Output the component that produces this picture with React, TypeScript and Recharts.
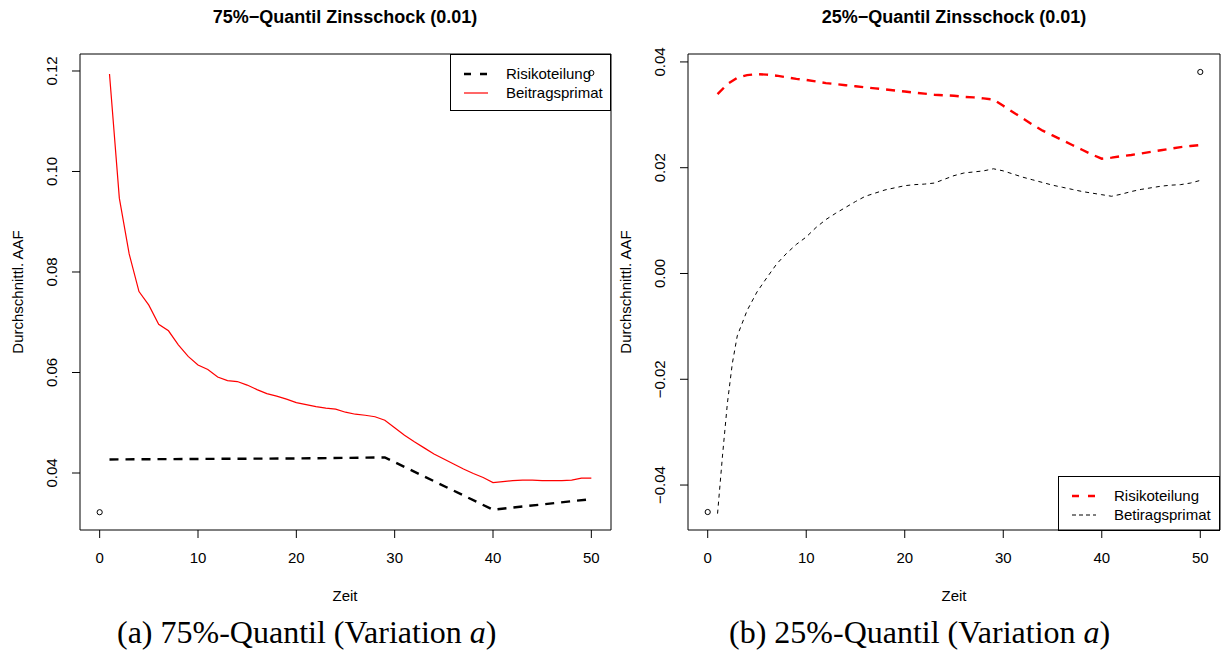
import { ComposedChart, Line, Scatter, XAxis, YAxis, ReferenceArea } from 'recharts';

const FONT = '"Liberation Sans", Arial, Helvetica, sans-serif';
const SERIF = '"Liberation Serif", "Times New Roman", serif';

// Zeit 1..50
const zeit = [
  1, 2, 3, 4, 5, 6, 7, 8, 9, 10, 11, 12, 13, 14, 15, 16, 17, 18, 19, 20, 21, 22, 23, 24, 25,
  26, 27, 28, 29, 30, 31, 32, 33, 34, 35, 36, 37, 38, 39, 40, 41, 42, 43, 44, 45, 46, 47, 48, 49, 50,
];
const xTicks = [0, 10, 20, 30, 40, 50];

// (a) 75%-Quantil
const beitragA = [
  0.1194, 0.0947, 0.0836, 0.0761, 0.0734, 0.0696, 0.0683, 0.0655, 0.0632, 0.0615,
  0.0606, 0.0591, 0.0584, 0.0582, 0.0575, 0.0566, 0.0558, 0.0553, 0.0547, 0.054,
  0.0536, 0.0532, 0.0529, 0.0527, 0.0521, 0.0517, 0.0515, 0.0512, 0.0505, 0.049,
  0.0475, 0.0462, 0.045, 0.0438, 0.0428, 0.0418, 0.0408, 0.0399, 0.0391, 0.0381,
  0.0383, 0.0385, 0.0386, 0.0386, 0.0385, 0.0385, 0.0385, 0.0386, 0.039, 0.039,
];
const risikoAZeit = [1, 10, 20, 29, 40, 50];
const risikoA = [0.0427, 0.0428, 0.0429, 0.0431, 0.0327, 0.0348];
const markerZeit = [0, 50];
const markerA = [0.0322, 0.1196];
const yTicksA = [0.04, 0.06, 0.08, 0.1, 0.12];
const yDomainA = [0.02866, 0.12338];

// (b) 25%-Quantil
const risikoB = [
  0.0339, 0.0358, 0.037, 0.0375, 0.0377, 0.0376, 0.0374, 0.0371, 0.0368, 0.0366,
  0.0363, 0.036, 0.0358, 0.0356, 0.0354, 0.0352, 0.035, 0.0348, 0.0346, 0.0344,
  0.0342, 0.034, 0.0338, 0.0337, 0.0336, 0.0334, 0.0333, 0.0331, 0.0329, 0.0317,
  0.0305, 0.0293, 0.0281, 0.027, 0.0261, 0.0252, 0.0243, 0.0234, 0.0225, 0.0217,
  0.0219, 0.0222, 0.0224, 0.0227, 0.023, 0.0233, 0.0236, 0.0239, 0.0241, 0.0243,
];
const beitragBZeit = [
  1, 1.5, 2, 2.5, 3, 4, 5, 6, 7, 8, 9, 10, 11, 12, 13, 14, 15, 16, 17, 18, 19, 20, 21, 22, 23, 24, 25,
  26, 27, 28, 29, 30, 31, 32, 33, 34, 35, 36, 37, 38, 39, 40, 41, 42, 43, 44, 45, 46, 47, 48, 49, 50,
];
const beitragB = [
  -0.0454, -0.0345, -0.0245, -0.017, -0.0118, -0.007, -0.0035, -0.0008, 0.0018, 0.0038,
  0.0055, 0.0069, 0.0087, 0.0102, 0.0114, 0.0125, 0.0136, 0.0146, 0.0152, 0.0158,
  0.0162, 0.0166, 0.0168, 0.0169, 0.0171, 0.0178, 0.0185, 0.019, 0.0192, 0.0194,
  0.0198, 0.0194, 0.0188, 0.0182, 0.0177, 0.0172, 0.0167, 0.0163, 0.0159, 0.0155,
  0.0152, 0.0149, 0.0146, 0.015, 0.0155, 0.0159, 0.0162, 0.0165, 0.0167, 0.0168,
  0.0171, 0.0176,
];
const markerB = [-0.0451, 0.0381];
const yTicksB = [-0.04, -0.02, 0, 0.02, 0.04];
const yDomainB = [-0.0485, 0.0415];

const pairs = (xs: number[], ys: number[]) => xs.map((x, i) => ({ x, y: ys[i] }));

function fmt(v: number) {
  const s = Math.abs(v).toFixed(2);
  return v < 0 ? '\u2212' + s : s;
}

function YTick({ x, y, payload }: any) {
  const bx = x - 15;
  return (
    <text
      x={bx}
      y={y}
      transform={`rotate(-90 ${bx} ${y})`}
      textAnchor="middle"
      fontSize={15}
      fontFamily={FONT}
      fill="#000"
    >
      {fmt(payload.value)}
    </text>
  );
}

function Ring(props: any) {
  const { cx, cy } = props;
  return <circle cx={cx} cy={cy} r={2.6} fill="none" stroke="#000" strokeWidth={1} />;
}

// yaxis width 60 + xaxis height 30 are added to the margins
function Panel({
  width,
  plotLeft,
  marginRight,
  domain,
  ticks,
  children,
}: {
  width: number;
  plotLeft: number;
  marginRight: number;
  domain: number[];
  ticks: number[];
  children: any;
}) {
  return (
    <ComposedChart
      width={width}
      height={610}
      margin={{ top: 54, right: marginRight, bottom: 50, left: plotLeft - 60 }}
    >
      <XAxis
        dataKey="x"
        type="number"
        domain={[-2, 52]}
        ticks={xTicks}
        allowDataOverflow
        height={30}
        axisLine={false}
        tickSize={8}
        tickMargin={14}
        tickLine={{ stroke: '#000' }}
        tick={{ fill: '#000', fontSize: 15, fontFamily: FONT }}
      />
      <YAxis
        type="number"
        domain={domain}
        ticks={ticks}
        allowDataOverflow
        width={60}
        axisLine={false}
        tickSize={8}
        tickMargin={0}
        tickLine={{ stroke: '#000' }}
        tick={<YTick />}
      />
      <ReferenceArea
        x1={-2}
        x2={52}
        y1={domain[0]}
        y2={domain[1]}
        fill="none"
        stroke="#000"
        strokeWidth={1}
        ifOverflow="visible"
      />
      {children}
    </ComposedChart>
  );
}

function LegendSym({ color, width, dash }: { color: string; width: number; dash?: string }) {
  return (
    <svg width={24} height={6} style={{ position: 'absolute', left: 0, top: -3 }}>
      <line x1={0} y1={3} x2={24} y2={3} stroke={color} strokeWidth={width} strokeDasharray={dash} />
    </svg>
  );
}

function LegendBox({
  left,
  top,
  width,
  height,
  rows,
}: {
  left: number;
  top: number;
  width: number;
  height: number;
  rows: { label: string; color: string; width: number; dash?: string }[];
}) {
  return (
    <div
      style={{
        position: 'absolute',
        left,
        top,
        width,
        height,
        border: '1px solid #000',
        boxSizing: 'border-box',
        fontFamily: FONT,
        fontSize: 15,
        color: '#000',
      }}
    >
      {rows.map((r, i) => (
        <div key={r.label} style={{ position: 'absolute', left: 13, top: 19 + i * 18.6 }}>
          <LegendSym color={r.color} width={r.width} dash={r.dash} />
          <span style={{ position: 'absolute', left: 42, top: -9, whiteSpace: 'nowrap', lineHeight: '18px' }}>
            {r.label}
          </span>
        </div>
      ))}
    </div>
  );
}

export default function App() {
  return (
    <div style={{ position: 'absolute', left: 0, top: 0, width: 1223, height: 655, background: '#fff', overflow: 'hidden' }}>
      <div style={{ position: 'absolute', left: 0, top: 0 }}>
        <Panel width={615} plotLeft={80} marginRight={4} domain={yDomainA} ticks={yTicksA}>
          <Line
            data={pairs(risikoAZeit, risikoA)}
            dataKey="y"
            type="linear"
            stroke="#000"
            strokeWidth={2.4}
            strokeDasharray="9 7"
            dot={false}
            isAnimationActive={false}
          />
          <Line
            data={pairs(zeit, beitragA)}
            dataKey="y"
            type="linear"
            stroke="#ff0000"
            strokeWidth={1.2}
            dot={false}
            isAnimationActive={false}
          />
          <Scatter data={pairs(markerZeit, markerA)} dataKey="y" shape={<Ring />} isAnimationActive={false} />
        </Panel>
      </div>
      <div style={{ position: 'absolute', left: 615, top: 0 }}>
        <Panel width={608} plotLeft={73} marginRight={3} domain={yDomainB} ticks={yTicksB}>
          <Line
            data={pairs(zeit, risikoB)}
            dataKey="y"
            type="linear"
            stroke="#ff0000"
            strokeWidth={2.4}
            strokeDasharray="9 7"
            dot={false}
            isAnimationActive={false}
          />
          <Line
            data={pairs(beitragBZeit, beitragB)}
            dataKey="y"
            type="linear"
            stroke="#000"
            strokeWidth={1}
            strokeDasharray="4 4"
            dot={false}
            isAnimationActive={false}
          />
          <Scatter data={pairs(markerZeit, markerB)} dataKey="y" shape={<Ring />} isAnimationActive={false} />
        </Panel>
      </div>

      <LegendBox
        left={450}
        top={54}
        width={161}
        height={57}
        rows={[
          { label: 'Risikoteilung', color: '#000', width: 2.4, dash: '7 9' },
          { label: 'Beitragsprimat', color: '#ff0000', width: 1.2 },
        ]}
      />
      <LegendBox
        left={1058}
        top={476}
        width={162}
        height={55}
        rows={[
          { label: 'Risikoteilung', color: '#ff0000', width: 2.4, dash: '7 9' },
          { label: 'Betiragsprimat', color: '#000', width: 1, dash: '4 3' },
        ]}
      />

      <svg width={1223} height={655} style={{ position: 'absolute', left: 0, top: 0, pointerEvents: 'none' }}>
        <text x={345} y={23} textAnchor="middle" fontFamily={FONT} fontWeight="bold" fontSize={18} fill="#000">
          75%−Quantil Zinsschock (0.01)
        </text>
        <text x={954} y={23} textAnchor="middle" fontFamily={FONT} fontWeight="bold" fontSize={18} fill="#000">
          25%−Quantil Zinsschock (0.01)
        </text>
        <text x={23} y={292} transform="rotate(-90 23 292)" textAnchor="middle" fontFamily={FONT} fontSize={15} fill="#000">
          Durchschnittl. AAF
        </text>
        <text x={631} y={292} transform="rotate(-90 631 292)" textAnchor="middle" fontFamily={FONT} fontSize={15} fill="#000">
          Durchschnittl. AAF
        </text>
        <text x={345} y={601} textAnchor="middle" fontFamily={FONT} fontSize={15} fill="#000">
          Zeit
        </text>
        <text x={954} y={601} textAnchor="middle" fontFamily={FONT} fontSize={15} fill="#000">
          Zeit
        </text>
        <text x={117} y={643} fontFamily={SERIF} fontSize={32} fill="#000">
          (a) 75%-Quantil (Variation <tspan fontStyle="italic">a</tspan>)
        </text>
        <text x={729} y={643} fontFamily={SERIF} fontSize={32} fill="#000">
          (b) 25%-Quantil (Variation <tspan fontStyle="italic">a</tspan>)
        </text>
      </svg>
    </div>
  );
}
